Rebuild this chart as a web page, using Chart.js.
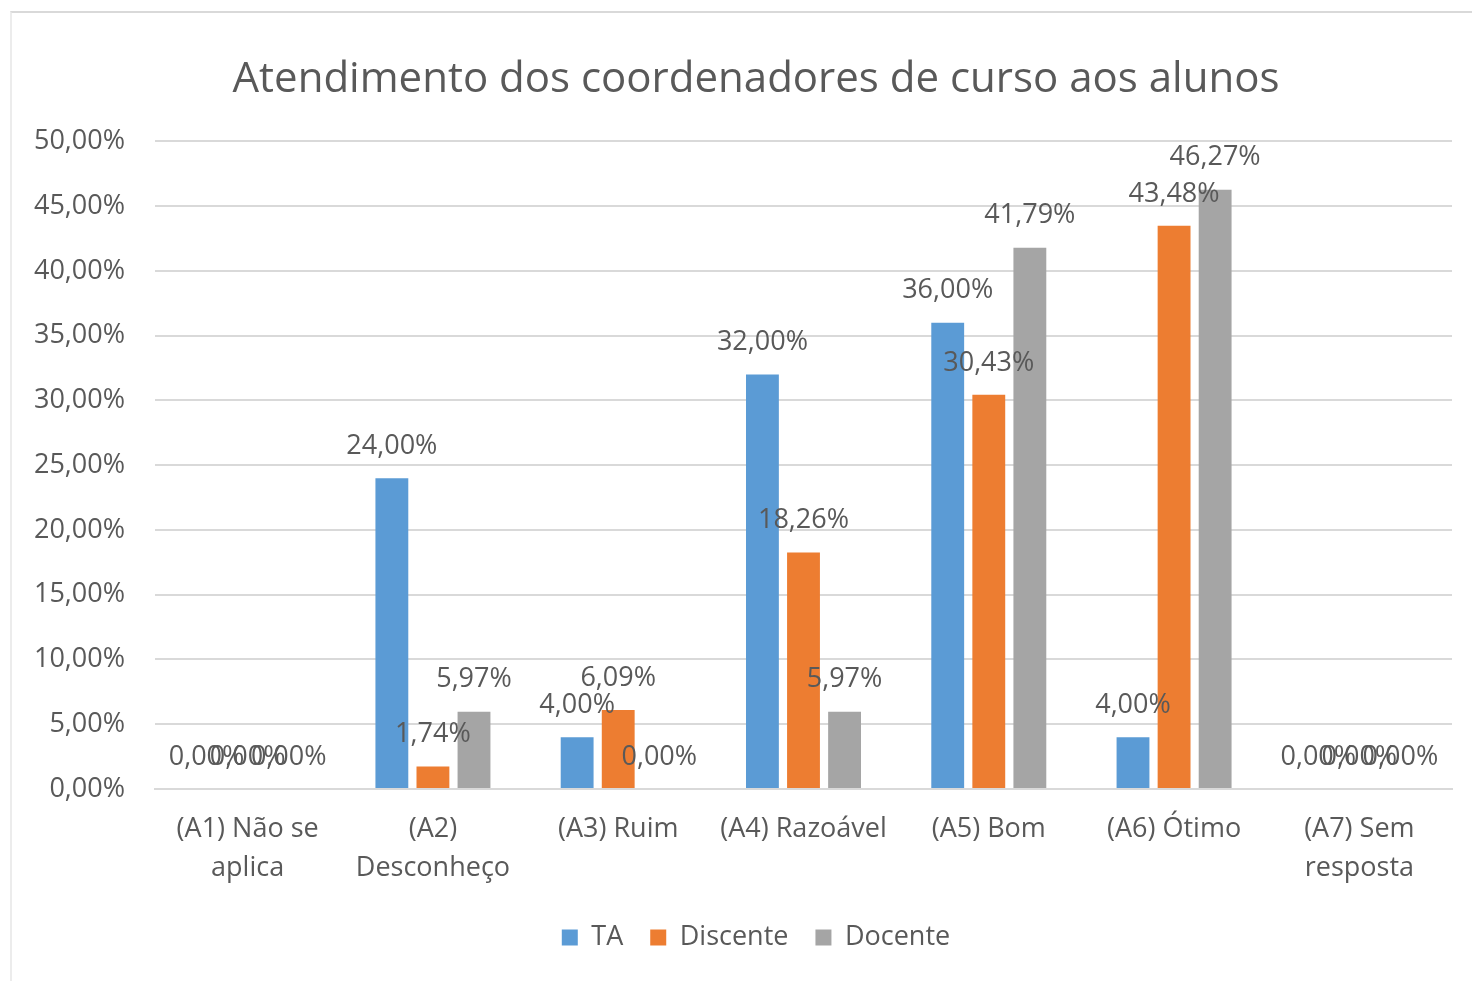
<!DOCTYPE html>
<html>
<head>
<meta charset="utf-8">
<script src="https://cdn.jsdelivr.net/npm/chart.js@4/dist/chart.umd.min.js"></script>
<style>
  html, body { margin: 0; padding: 0; background: #fff; }
  #wrap { position: relative; width: 1472px; height: 981px; overflow: hidden; }
  #frame { position: absolute; left: 10px; top: 11px; width: 1500px; height: 1000px;
           border-top: 2px solid #d9d9d9; border-left: 2px solid #ececec; }
  canvas { position: absolute; left: 0; top: 0; }
</style>
</head>
<body>
<div id="wrap">
  <div id="frame"></div>
  <canvas id="chart" width="1512" height="981"></canvas>
</div>
<script>
// === Atendimento dos coordenadores de curso aos alunos ===

const categories = [
  ['(A1) Não se', 'aplica'],
  ['(A2)', 'Desconheço'],
  '(A3) Ruim',
  '(A4) Razoável',
  '(A5) Bom',
  '(A6) Ótimo',
  ['(A7) Sem', 'resposta'],
];

const taValues = [0.00, 24.00, 4.00, 32.00, 36.00, 4.00, 0.00];
const discenteValues = [0.00, 1.74, 6.09, 18.26, 30.43, 43.48, 0.00];
const docenteValues = [0.00, 5.97, 0.00, 5.97, 41.79, 46.27, 0.00];

const yMax = 50;
const yStep = 5;

const COLORS = {
  blue: '#5b9bd5',
  orange: '#ed7d31',
  gray: '#a5a5a5',
  text: '#595959',
  grid: '#d9d9d9',
};

const FONT = "'Open Sans', sans-serif";

function pct(v) {
  return v.toFixed(2).replace('.', ',') + '%';
}

// value labels above each bar
const barLabels = {
  id: 'barLabels',
  afterDatasetsDraw(chart) {
    const ctx = chart.ctx;
    ctx.save();
    ctx.font = `27px ${FONT}`;
    ctx.fillStyle = COLORS.text;
    ctx.textAlign = 'center';
    ctx.textBaseline = 'middle';
    chart.data.datasets.forEach((ds, i) => {
      chart.getDatasetMeta(i).data.forEach((bar, j) => {
        ctx.fillText(pct(ds.data[j]), bar.x, bar.y - 32);
      });
    });
    ctx.restore();
  }
};

// the original centres title and legend on the whole frame, not on the plot
const shiftHeader = {
  id: 'shiftHeader',
  afterLayout(chart) {
    [chart.titleBlock, chart.legend].forEach(box => {
      if (!box) return;
      box.left += 30;
      box.right += 30;
    });
  }
};

new Chart(document.getElementById('chart'), {
  type: 'bar',
  data: {
    labels: categories,
    datasets: [
      { label: 'TA', data: taValues, backgroundColor: COLORS.blue },
      { label: 'Discente', data: discenteValues, backgroundColor: COLORS.orange },
      { label: 'Docente', data: docenteValues, backgroundColor: COLORS.gray },
    ],
  },
  options: {
    responsive: false,
    animation: false,
    categoryPercentage: 0.665,
    barPercentage: 0.8,
    layout: { padding: { left: 0, right: 60, top: 55, bottom: 20 } },
    plugins: {
      title: {
        display: true,
        text: 'Atendimento dos coordenadores de curso aos alunos',
        color: COLORS.text,
        font: { family: FONT, size: 42, weight: 'normal' },
        padding: { top: 0, bottom: 36 },
      },
      legend: {
        position: 'bottom',
        labels: {
          color: COLORS.text,
          font: { family: FONT, size: 27 },
          boxWidth: 16,
          boxHeight: 16,
          padding: 27,
        },
      },
      tooltip: { enabled: false },
    },
    scales: {
      x: {
        grid: { display: false },
        border: { color: COLORS.grid, width: 2 },
        ticks: {
          color: COLORS.text,
          font: { family: FONT, size: 27, lineHeight: 1.45 },
          padding: 13,
          maxRotation: 0,
          autoSkip: false,
        },
        afterFit(scale) { scale.height = 108; },
      },
      y: {
        min: 0,
        max: yMax,
        border: { display: false },
        grid: { color: COLORS.grid, lineWidth: 2, drawTicks: false },
        ticks: {
          stepSize: yStep,
          color: COLORS.text,
          font: { family: FONT, size: 27 },
          padding: 30,
          callback: v => pct(v),
        },
        afterFit(scale) { scale.width = 155; },
      },
    },
  },
  plugins: [barLabels, shiftHeader],
});
</script>
</body>
</html>
